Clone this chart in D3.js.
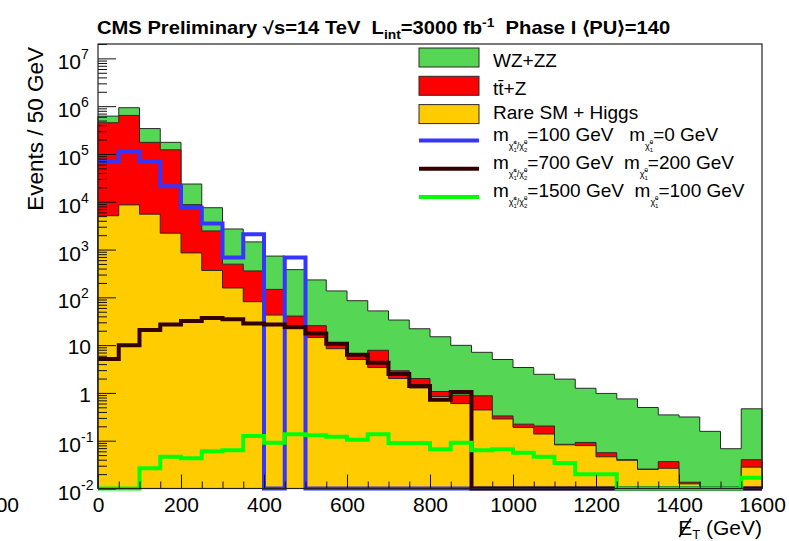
<!DOCTYPE html>
<html>
<head>
<meta charset="utf-8">
<script src="https://cdn.jsdelivr.net/npm/d3@7"></script>
<style>
  body { margin: 0; background: #fff; }
  svg { display: block; font-family: "Liberation Sans", Arial, Helvetica, sans-serif; }
  text { white-space: pre; }
</style>
</head>
<body>
<svg id="chart" width="789" height="541"></svg>
<script>
// Missing-ET distribution, 50 GeV bins from 0 to 1600 GeV
const binWidth = 50;
const metMax = 1600;

// Stacked backgrounds (events per bin)
const rareSMHiggs = [5100, 8600, 5500, 2200, 850, 365, 157, 81, 42.6, 22, 14.5, 8.4, 5.0, 3.4, 2.0, 1.27,
                     0.84, 0.6, 0.44, 0.285, 0.19, 0.138, 0.082, 0.079, 0.046, 0.039, 0.025, 0.0265, 0.0125, 0, 0, 0.028];
const ttbarZ = [445000, 631000, 169500, 119800, 7850, 2085, 338, 276, 104, 18.6, 11.0, 1.7, 1.4, 4.4, 0.9, 0.73,
                0.23, 0.3, 0.43, 0.045, 0.032, 0.065, 0.002, 0.013, 0.010, 0.001, 0.0005, 0.010, 0.001, 0, 0, 0.012];
const wzZZ = [170000, 290000, 165000, 53000, 14800, 5050, 2200, 1090, 583, 339, 206, 126, 78.6, 44.2, 30.6, 20,
              13.9, 9.0, 6.2, 4.67, 3.18, 2.25, 1.86, 1.16, 0.92, 0.71, 0.47, 0.31, 0.30, 0.157, 0.068, 0.425];

// Signal hypotheses (not stacked)
const sigM100 = [69000, 115000, 71000, 21000, 7500, 3500, 680, 2080, 0, 680, 0, 0, 0, 0, 0, 0,
                 0, 0, 0, 0, 0, 0, 0, 0, 0, 0, 0, 0, 0, 0, 0, 0];
const sigM700 = [5.1, 10, 20.7, 27, 32, 37, 35, 28.5, 27, 24, 17.5, 10.7, 6.3, 4.3, 2.5, 1.4,
                 0.72, 1.04, 0, 0, 0, 0, 0, 0, 0, 0, 0, 0, 0, 0, 0, 0];
const sigM1500 = [0, 0, 0.0265, 0.046, 0.043, 0.06, 0.063, 0.125, 0.091, 0.136, 0.13, 0.121, 0.105, 0.136, 0.09, 0.09,
                  0.066, 0.091, 0.0635, 0.066, 0.056, 0.046, 0.034, 0.0198, 0.0198, 0, 0, 0, 0, 0, 0, 0.0168];

const yDecades = [-2, -1, 0, 1, 2, 3, 4, 5, 6, 7];
const xMajorTicks = [0, 200, 400, 600, 800, 1000, 1200, 1400, 1600];

const backgroundKeys = ["rare", "ttz", "wz"];
const backgroundLabels = { wz: "WZ+ZZ", ttz: "tt\u0304+Z", rare: "Rare SM + Higgs" };
const backgroundColors = { wz: "#55d655", ttz: "#ff0000", rare: "#ffcc00" };

const signals = [
  { values: sigM100,  color: "#3535ff", mass: "=100 GeV   m", lsp: "=0 GeV" },
  { values: sigM700,  color: "#330000", mass: "=700 GeV  m",  lsp: "=200 GeV" },
  { values: sigM1500, color: "#00ff00", mass: "=1500 GeV  m", lsp: "=100 GeV" }
];

const svg = d3.select("#chart");
const frameL = 98, frameR = 762, frameT = 44, frameB = 488.5;

const x = d3.scaleLinear().domain([0, metMax]).range([frameL, frameR]);
const y = d3.scaleLog().domain([0.01, 2e7]).range([frameB, frameT]);
const yb = y(0.01);
const yv = v => (v > 0.01 ? y(v) : yb);
const nBins = rareSMHiggs.length;

// stack the three backgrounds
const rows = d3.range(nBins).map(i => ({ rare: rareSMHiggs[i], ttz: ttbarZ[i], wz: wzZZ[i] }));
const stacked = d3.stack().keys(backgroundKeys)(rows);

function stepPath(vals, closed) {
  const p = d3.path();
  if (closed) { p.moveTo(x(0), yb); p.lineTo(x(0), yv(vals[0])); }
  else p.moveTo(x(0), yv(vals[0]));
  vals.forEach((v, i) => {
    const yy = yv(v);
    p.lineTo(x(i * binWidth), yy);
    p.lineTo(x((i + 1) * binWidth), yy);
  });
  if (closed) { p.lineTo(x(metMax), yb); p.closePath(); }
  return p.toString();
}

// draw from the top of the stack down so the lower layers sit in front
const plot = svg.append("g");
stacked.slice().reverse().forEach(layer => {
  const tops = layer.map(d => d[1]);
  plot.append("path")
    .attr("d", stepPath(tops, true))
    .attr("fill", backgroundColors[layer.key])
    .attr("stroke", "#2a2a2a")
    .attr("stroke-width", 1);
});

signals.forEach(s => {
  plot.append("path")
    .attr("d", stepPath(s.values, false))
    .attr("fill", "none")
    .attr("stroke", s.color)
    .attr("stroke-width", 4)
    .attr("stroke-linejoin", "miter");
});

// axes: ticks point into the frame
const yMajor = yDecades.map(e => Math.pow(10, e));
const yMinor = [];
for (let e = -2; e <= 7; e++) for (let m = 2; m <= 9; m++) {
  const v = m * Math.pow(10, e);
  if (v <= 2e7) yMinor.push(v);
}
const xMinor = d3.range(0, metMax + 1, 50).filter(v => v % 200 !== 0);

const axisG = svg.append("g");
axisG.append("g").attr("transform", `translate(${frameL},0)`)
  .call(d3.axisLeft(y).tickValues(yMajor).tickSize(-18).tickFormat(""));
axisG.append("g").attr("transform", `translate(${frameL},0)`)
  .call(d3.axisLeft(y).tickValues(yMinor).tickSize(-9).tickFormat(""));
axisG.append("g").attr("transform", `translate(0,${frameB})`)
  .call(d3.axisBottom(x).tickValues(xMinor).tickSize(-7).tickFormat(""));
const xAx = axisG.append("g").attr("transform", `translate(0,${frameB})`)
  .call(d3.axisBottom(x).tickValues(xMajorTicks).tickSize(-14).tickPadding(9).tickFormat(d3.format("d")));
xAx.selectAll("text").attr("font-size", 21).attr("fill", "#000")
  .attr("font-family", "Liberation Sans, Arial, sans-serif");
axisG.selectAll(".domain").remove();
axisG.selectAll(".tick line").attr("stroke", "#111").attr("stroke-width", 1);

// frame
svg.append("rect").attr("x", frameL).attr("y", frameT)
  .attr("width", frameR - frameL).attr("height", frameB - frameT)
  .attr("fill", "none").attr("stroke", "#222").attr("stroke-width", 1.2);

// y tick labels with exponents
const yLab = svg.append("g").attr("font-size", 21);
yDecades.forEach(e => {
  const ty = y(Math.pow(10, e));
  if (e === 0 || e === 1) {
    yLab.append("text").attr("x", 91).attr("y", ty + 9).attr("text-anchor", "end").text(e === 0 ? "1" : "10");
  } else {
    const t = yLab.append("text").attr("x", 57).attr("y", ty + 11);
    t.append("tspan").text("10");
    t.append("tspan").attr("font-size", 14).attr("dy", -10).text(String(e));
    // keep the "10" ending at the same column for every decade
    const w10 = t.node().getSubStringLength(0, 2);
    t.attr("x", 81 - w10);
  }
});

// partially visible label at the far left
svg.append("text").attr("x", 19).attr("y", 512).attr("text-anchor", "end").attr("font-size", 21).text("00");

// y axis title
svg.append("text")
  .attr("transform", "translate(43,47) rotate(-90)")
  .attr("text-anchor", "end").attr("font-size", 22.5).text("Events / 50 GeV");

// x axis title: slashed E_T
const xt = svg.append("text").attr("x", 762).attr("y", 535).attr("text-anchor", "end").attr("font-size", 21);
xt.append("tspan").text("E");
xt.append("tspan").attr("font-size", 13).attr("dy", 4).text("T");
xt.append("tspan").attr("dy", -4).text(" (GeV)");
const ex = xt.node().getStartPositionOfChar(0).x;
svg.append("line").attr("x1", ex + 1).attr("y1", 537).attr("x2", ex + 13).attr("y2", 518)
  .attr("stroke", "#000").attr("stroke-width", 1.6);

// title
const title = svg.append("text").attr("x", 97).attr("y", 34).attr("font-size", 17.5).attr("font-weight", "bold");
title.append("tspan").text("CMS Preliminary \u221As=14 TeV  L");
title.append("tspan").attr("font-size", 12).attr("dy", 5).text("int");
title.append("tspan").attr("dy", -5).text("=3000 fb");
title.append("tspan").attr("font-size", 12).attr("dy", -7).text("-1");
title.append("tspan").attr("dy", 7).text("  Phase I \u27E8PU\u27E9=140");
const tw = title.node().getBBox().width;
title.attr("transform", `translate(97,0) scale(${575 / tw},1) translate(-97,0)`);

// legend
const leg = svg.append("g").attr("font-size", 19);
const legFill = ["wz", "ttz", "rare"];
const legTextBase = [66.5, 94.5, 118.5];
legFill.forEach((k, i) => {
  const cy = 57.5 + i * 28.3;
  leg.append("rect").attr("x", 419).attr("y", cy - 9.5).attr("width", 60).attr("height", 19)
    .attr("fill", backgroundColors[k]).attr("stroke", "#2a2a2a").attr("stroke-width", 1);
  leg.append("text").attr("x", 493).attr("y", legTextBase[i]).text(backgroundLabels[k]);
});

// neutralino / chargino subscripts written inline as tspans
function chi(t, dyIn, sup, sub) {
  t.append("tspan").attr("font-size", 9).attr("dy", dyIn).text("\u03C7\u0303");
  t.append("tspan").attr("font-size", 6).attr("dy", -5).text(sup);
  t.append("tspan").attr("font-size", 6).attr("dx", -3.4).attr("dy", 8).text(sub);
}

signals.forEach((s, i) => {
  const by = 140.5 + i * 28.2;
  leg.append("line").attr("x1", 419).attr("x2", 479).attr("y1", by).attr("y2", by)
    .attr("stroke", s.color).attr("stroke-width", 4);
  const t = leg.append("text").attr("x", 493).attr("y", by);
  t.append("tspan").text("m");
  chi(t, 8, "\u00B1", "1");
  t.append("tspan").attr("font-size", 9).attr("dy", -3).text("/");
  chi(t, 0, "0", "2");
  t.append("tspan").attr("dy", -11).text(s.mass);
  chi(t, 8, "0", "1");
  t.append("tspan").attr("dy", -11).text(s.lsp);
});
</script>
</body>
</html>
